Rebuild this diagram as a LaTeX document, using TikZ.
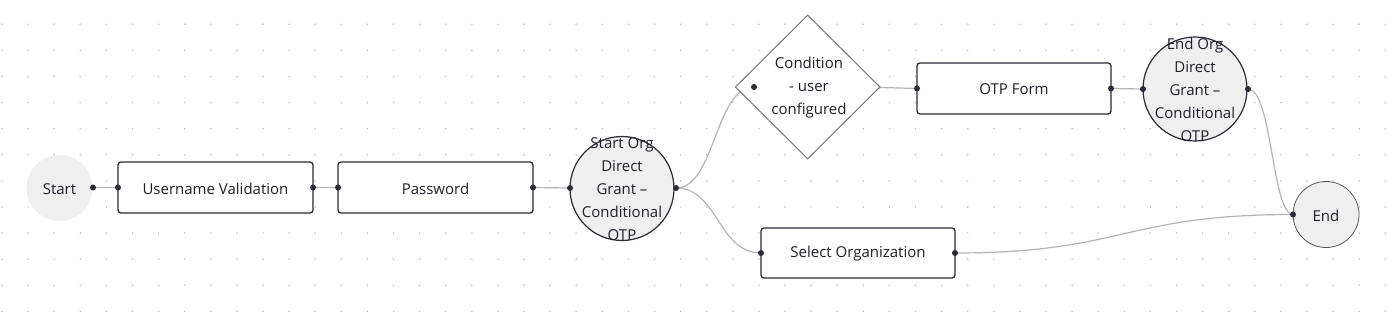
\documentclass[tikz,border=0pt]{standalone}
\usepackage{fontspec}
\setmainfont{Open Sans}
\usetikzlibrary{shapes.geometric}
\definecolor{bordr}{HTML}{2A2A38}
\definecolor{edgec}{HTML}{B4B4B4}
\definecolor{nfill}{HTML}{EFEFEF}
\definecolor{txt}{HTML}{1F1F2A}
\definecolor{dotc}{HTML}{BDBDBD}
\definecolor{condc}{HTML}{808080}
\pgfdeclarelayer{grid}
\pgfdeclarelayer{edges}
\pgfsetlayers{grid,edges,main}
\tikzset{
  stepbox/.style={draw=bordr, line width=1.3pt, rounded corners=3pt, fill=white, minimum width=195pt, minimum height=51pt, inner sep=0pt, text=txt},
  bigcirc/.style={circle, draw=bordr, line width=1.2pt, fill=nfill, minimum size=104pt, inner sep=0pt},
  endcirc/.style={circle, fill=nfill, minimum size=66pt, inner sep=0pt, text=txt},
  ctext/.style={align=center, text=txt, inner sep=0pt},
  btext/.style={text=txt, inner sep=0pt},
  handle/.style={circle, fill=bordr, minimum size=6pt, inner sep=0pt},
  conn/.style={draw=edgec, line width=1.2pt},
  cond/.style={diamond, draw=condc, line width=1.1pt, fill=white, minimum width=145pt, minimum height=144pt, inner sep=0pt}
}
\begin{document}
\begin{tikzpicture}[x=1pt,y=-1pt, font=\fontsize{15pt}{23pt}\selectfont]
\begin{pgfonlayer}{grid}
\useasboundingbox (0,0) rectangle (1388,312);
\fill[white] (0,0) rectangle (1388,312);
\foreach \i in {0,...,53} {
  \foreach \j in {0,...,11} {
    \fill[dotc] (2+26.1*\i, 24.3+26.1*\j) circle (0.85pt);
  }
}
\end{pgfonlayer}
% nodes
\node[endcirc] (start) at (59.5,188) {};
\node[btext] (startt) at (59.5,189) {Start};
\node[stepbox] (uv) at (215.5,187.5) {};
\node[btext] (uvt) at (215.5,188.5) {Username Validation};
\node[stepbox] (pw) at (435.5,187.5) {};
\node[btext] (pwt) at (435.5,188.5) {Password};
\node[bigcirc] (so) at (622,188.5) {};
\node[ctext] (sot) at (622,189) {Start Org\\Direct\\Grant –\\Conditional\\OTP};
\node[cond] (cond) at (807.7,87) {};
\node[ctext] (condt) at (809,87.5) {Condition\\- user\\configured};
\node[stepbox, minimum width=194pt] (otp) at (1014,88.5) {};
\node[btext] (otpt) at (1014,89.5) {OTP Form};
\node[bigcirc] (eo) at (1195,89) {};
\node[ctext] (eot) at (1195,89.5) {End Org\\Direct\\Grant –\\Conditional\\OTP};
\node[endcirc, draw=bordr!80, line width=0.8pt] (end) at (1326,214.5) {};
\node[btext] (endt) at (1326,215.5) {End};
\node[stepbox, minimum width=194pt, minimum height=50pt] (sel) at (858,253) {};
\node[btext] (selt) at (858,254) {Select Organization};
% handles
\node[handle] (hs) at (93,187.5) {};
\node[handle] (huvl) at (118,187.5) {};
\node[handle] (huvr) at (313,187.5) {};
\node[handle] (hpwl) at (338,187.5) {};
\node[handle] (hpwr) at (533,187.5) {};
\node[handle] (hsol) at (570,188) {};
\node[handle] (hsor) at (676,188) {};
\node[handle] (hcond) at (754,87) {};
\coordinate (hcondr) at (862,87);
\node[handle] (hotl) at (917,88.5) {};
\node[handle] (hotr) at (1111,88.5) {};
\node[handle] (heol) at (1143,89) {};
\node[handle] (heor) at (1248,89) {};
\node[handle] (hsell) at (761,253) {};
\node[handle] (hselr) at (955,253) {};
\node[handle] (hend) at (1293,214.5) {};
% edges
\begin{pgfonlayer}{edges}
\draw[conn] (hs.center) -- (huvl.center);
\draw[conn] (huvr.center) -- (hpwl.center);
\draw[conn] (hpwr.center) -- (hsol.center);
\draw[conn] (hsor.center) .. controls (715,188) and (715,87) .. (hcond.center);
\draw[conn] (hsor.center) .. controls (718,188) and (718,253) .. (hsell.center);
\draw[conn] (hcondr) -- (hotl.center);
\draw[conn] (hotr.center) -- (heol.center);
\draw[conn] (heor.center) .. controls (1272,89) and (1272,214.5) .. (hend.center);
\draw[conn] (hselr.center) .. controls (1124,253) and (1124,214.5) .. (hend.center);
\end{pgfonlayer}
\end{tikzpicture}
\end{document}
